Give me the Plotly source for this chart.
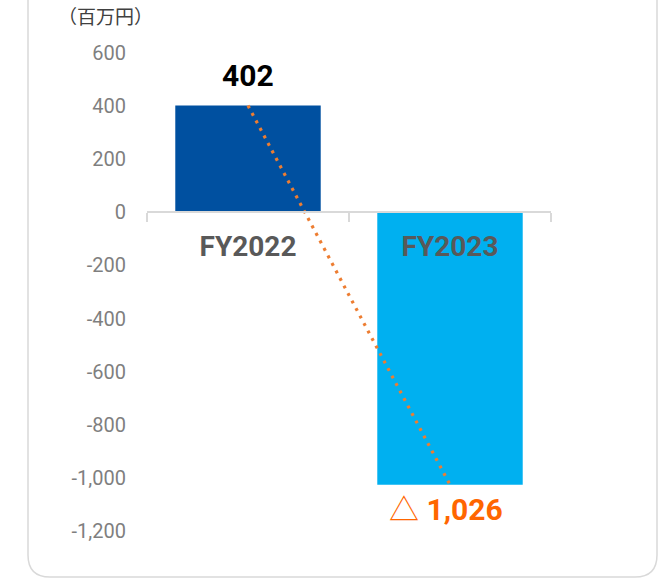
import plotly.graph_objects as go

categories = ["FY2022", "FY2023"]
values = [402, -1026]
bar_colors = ["#0050A0", "#00B0F0"]
tick_vals = [600, 400, 200, 0, -200, -400, -600, -800, -1000, -1200]
tick_text = ["600", "400", "200", "0", "-200", "-400", "-600", "-800", "-1,000", "-1,200"]
unit_label = "（百万円）"

W, H = 670, 579
ML, MT = 147, 53
PW, PH = 404, 478
MR, MB = W - ML - PW, H - MT - PH

def px_x(p):
    return (p - ML) / PW

def px_y(p):
    return (H - MB - p) / PH

fig = go.Figure()
fig.add_trace(go.Bar(x=categories, y=values, marker=dict(color=bar_colors, line=dict(width=0)),
                     width=0.72, hoverinfo="skip", showlegend=False))
fig.add_trace(go.Scatter(x=categories, y=values, mode="lines",
                         line=dict(color="#ED7D31", width=3.2, dash="3px,5.5px"),
                         hoverinfo="skip", showlegend=False))

for c, v in zip(categories, values):
    if v >= 0:
        fig.add_annotation(x=c, y=v, text=f"<b>{v:,}</b>", showarrow=False,
                           yanchor="bottom", yshift=11,
                           font=dict(family="Roboto", size=30, color="#000000"))
    else:
        fig.add_annotation(x=c, y=v, text=f"△ <b>{abs(v):,}</b>", showarrow=False,
                           yanchor="top", yshift=-5, xshift=-4,
                           font=dict(family="Roboto, Noto Sans CJK JP", size=30, color="#FF6600"))

fig.add_annotation(x=px_x(105), y=px_y(1), xref="paper", yref="paper", text=unit_label,
                   showarrow=False, xanchor="center", yanchor="top", borderpad=0,
                   font=dict(family="Noto Sans CJK JP", size=19, color="#404040"))

# rounded frame
x0, x1 = px_x(28), px_x(657)
y0, y1 = px_y(577), px_y(-10)
rx, ry = 22 / PW, 22 / PH
path = (f"M {x0},{y1} L {x0},{y0+ry} Q {x0},{y0} {x0+rx},{y0} "
        f"L {x1-rx},{y0} Q {x1},{y0} {x1},{y0+ry} L {x1},{y1}")
fig.add_shape(type="path", path=path, xref="paper", yref="paper",
              line=dict(color="#D9D9D9", width=1.5), layer="below")

fig.update_layout(
    width=W, height=H,
    margin=dict(l=ML, r=MR, t=MT, b=MB),
    paper_bgcolor="white", plot_bgcolor="white",
    xaxis=dict(type="category", range=[-0.5, 1.5], anchor="free",
               position=(0 - (-1200)) / 1800,
               showline=True, linecolor="#D9D9D9", linewidth=2,
               ticks="outside", tickson="boundaries", ticklen=9, tickwidth=2, tickcolor="#D9D9D9",
               tickfont=dict(family="Roboto", size=28, color="#595959", weight="bold"),
               ticklabelstandoff=9,
               showgrid=False, zeroline=False),
    yaxis=dict(range=[-1200, 600], tickvals=tick_vals, ticktext=tick_text,
               showgrid=False, zeroline=False, showline=False,
               tickfont=dict(family="Roboto", size=20, color="#7F7F7F"),
               ticklabelstandoff=20),
)

fig.write_html("out.html", config={"displayModeBar": False},
               post_script="document.body.style.margin='0';document.body.style.overflow='hidden';")
